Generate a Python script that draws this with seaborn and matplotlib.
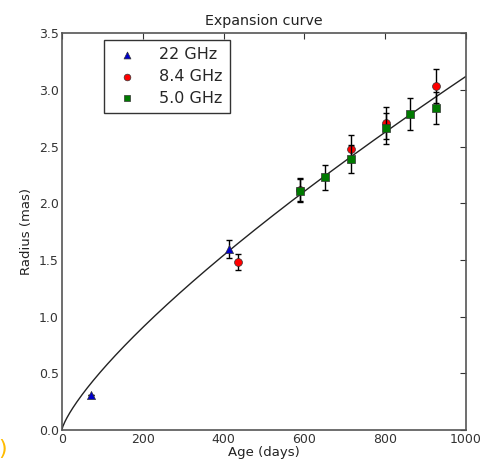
import numpy as np
import pandas as pd
import matplotlib
matplotlib.use("Agg")
import matplotlib.pyplot as plt
import seaborn as sns

# ---- data ----
t22 = [73, 413]
r22 = [0.31, 1.60]
e22 = [0.0, 0.08]

t84 = [435, 590, 715, 803, 926]
r84 = [1.48, 2.12, 2.48, 2.71, 3.03]
e84 = [0.07, 0.10, 0.12, 0.14, 0.15]

t50 = [590, 652, 716, 803, 862, 926]
r50 = [2.11, 2.23, 2.39, 2.66, 2.79, 2.84]
e50 = [0.10, 0.11, 0.12, 0.14, 0.14, 0.14]

# power-law expansion fit r = r1000 * (t/1000)^m
fit_r1000 = 3.12
fit_index = 0.77
fit_tmax = 1000

xticks = [0, 200, 400, 600, 800, 1000]
yticks = [0.0, 0.5, 1.0, 1.5, 2.0, 2.5, 3.0, 3.5]

sns.set_style("white")
plt.rcParams["font.family"] = ["DejaVu Sans"]

fig = plt.figure(figsize=(4.83, 4.63), dpi=100)
ax = fig.add_axes([0.128, 0.0713, 0.837, 0.857])

# fitted curve
tt = np.linspace(0, fit_tmax, 400)
curve = pd.DataFrame({"t": tt, "r": fit_r1000 * (tt / fit_tmax) ** fit_index})
sns.lineplot(data=curve, x="t", y="r", color="#222222", lw=1.0, ax=ax, zorder=2)

series = [
    ("22 GHz", t22, r22, e22, "^", "#0000cc", 34),
    ("8.4 GHz", t84, r84, e84, "o", "#ff0000", 32),
    ("5.0 GHz", t50, r50, e50, "s", "#007a00", 32),
]
z = 3
for label, t, r, e, mk, col, sz in series:
    ax.errorbar(t, r, yerr=e, fmt="none", ecolor="black", elinewidth=1.0,
                capsize=2.5, capthick=1.0, zorder=z)
    df = pd.DataFrame({"t": t, "r": r})
    sns.scatterplot(data=df, x="t", y="r", marker=mk, color=col, s=sz,
                    edgecolor="#333333", linewidth=0.5, ax=ax, label=label,
                    zorder=z + 1)
    z += 2

ax.set_xlim(0, 1000)
ax.set_ylim(0, 3.5)
ax.set_xticks(xticks)
ax.set_yticks(yticks)
ax.set_xticklabels([str(v) for v in xticks])
ax.set_yticklabels([f"{v:.1f}" for v in yticks])
ax.tick_params(direction="in", length=4, width=0.8, top=True, right=True,
               labelsize=9, colors="#333333", pad=2)
for sp in ax.spines.values():
    sp.set_color("#555555")
    sp.set_linewidth(1.2)

ax.set_xlabel("Age (days)", fontsize=9.5, color="#222222", labelpad=0)
ax.set_ylabel("Radius (mas)", fontsize=9.5, color="#222222", labelpad=4)
ax.set_title("Expansion curve", fontsize=10.3, color="#222222", pad=6)

leg = ax.legend(loc="upper left", bbox_to_anchor=(0.105, 0.983), borderaxespad=0,
                fontsize=11.5, frameon=True, fancybox=False, borderpad=0.45,
                handletextpad=1.0, markerscale=0.85, labelspacing=0.42,
                handlelength=2.0)
leg.get_frame().set_edgecolor("black")
leg.get_frame().set_linewidth(1.0)

fig.text(-0.004, 0.03, ")", color="#ffbb00", fontsize=16, ha="left", va="center")

fig.savefig("out.png", dpi=100)
